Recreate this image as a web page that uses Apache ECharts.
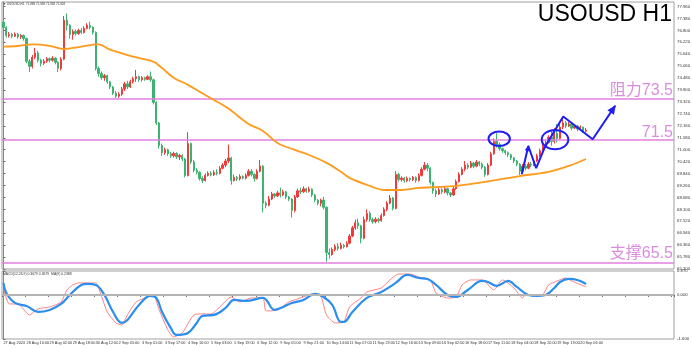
<!DOCTYPE html>
<html><head><meta charset="utf-8">
<script src="https://cdn.jsdelivr.net/npm/echarts@6/dist/echarts.min.js"></script>
<style>html,body{margin:0;padding:0;background:#fff}#c{width:692px;height:348px}</style>
</head><body><div id="c"></div>
<script>
// ---------- data ----------
const xLabels = ["27 Aug 2024","28 Aug 10:00","29 Aug 02:00","29 Aug 18:00","30 Aug 12:00","2 Sep 05:00","3 Sep 01:00","3 Sep 17:00","4 Sep 10:00","5 Sep 03:00","5 Sep 19:00","6 Sep 12:00","9 Sep 05:00","9 Sep 21:00","10 Sep 14:00","11 Sep 07:00","11 Sep 23:00","12 Sep 16:00","13 Sep 09:00","16 Sep 02:00","16 Sep 18:00","17 Sep 11:00","18 Sep 04:00","18 Sep 20:00","19 Sep 13:00","20 Sep 06:00"];
const priceTicks = [77.96,77.38,76.80,76.22,75.64,75.06,74.48,73.90,73.32,72.74,72.16,71.58,71.00,70.42,69.84,69.26,68.68,68.10,67.52,66.94,66.36,65.78,65.20];
const macdTicks = [0.87, 0, -1.6];
// [open, close, low, high]
const candles = [
[77.20,76.95,76.85,77.45],[76.95,76.55,76.45,77.00],[76.55,76.60,76.45,76.72],[76.60,76.52,76.42,76.68],[76.52,76.62,76.48,76.70],
[76.62,76.48,76.40,76.66],[76.48,76.55,76.38,76.62],[76.55,76.40,76.30,76.60],[76.40,75.30,75.20,76.45],[75.30,75.05,74.78,75.40],
[75.05,75.50,74.95,75.60],[75.50,75.70,75.40,75.95],[75.70,75.35,75.25,75.80],[75.35,75.20,75.05,75.42],[75.20,75.30,75.12,75.40],
[75.30,75.42,75.22,75.50],[75.42,75.35,75.25,75.48],[75.35,75.45,75.28,75.55],[75.45,75.25,75.15,75.50],[75.25,74.95,74.78,75.30],
[74.95,75.40,74.85,75.50],[75.40,77.30,75.35,77.50],[77.30,77.05,76.80,77.62],[77.05,76.60,76.40,77.10],[76.60,76.75,76.35,76.85],
[76.75,76.65,76.55,76.85],[76.65,76.80,76.58,76.88],[76.80,76.70,76.62,76.92],[76.70,76.90,76.65,77.00],[76.90,77.05,76.85,77.15],
[77.05,76.95,76.85,77.22],[76.95,76.70,76.60,77.00],[76.70,74.95,74.85,76.75],[74.95,74.70,74.55,75.05],[74.70,74.50,74.40,74.80],
[74.50,74.60,74.35,74.68],[74.60,74.30,74.20,74.65],[74.30,74.05,73.95,74.35],[74.05,73.75,73.65,74.10],[73.75,73.60,73.50,73.85],
[73.60,73.70,73.52,73.80],[73.70,73.95,73.62,74.05],[73.95,74.20,73.85,74.30],[74.20,74.05,73.95,74.35],[74.05,74.30,74.00,74.40],
[74.30,74.45,74.22,74.55],[74.45,74.55,74.30,74.88],[74.55,74.40,74.30,74.60],[74.40,74.50,74.32,74.58],[74.50,74.42,74.35,74.55],
[74.42,74.55,74.38,74.62],[74.55,74.40,74.30,74.80],[74.40,73.30,73.20,74.45],[73.30,72.30,72.20,73.35],[72.30,71.20,71.05,72.35],
[71.20,70.85,70.70,71.30],[70.85,71.00,70.75,71.10],[71.00,70.80,70.70,71.05],[70.80,70.70,70.60,70.90],[70.70,70.82,70.62,70.90],
[70.82,70.65,70.55,70.88],[70.65,70.72,70.50,70.80],[70.72,70.55,70.45,70.78],[70.55,69.75,69.65,70.60],[69.75,71.30,69.70,71.85],
[71.30,70.40,70.30,71.35],[70.40,70.00,69.90,70.50],[70.00,69.90,69.80,70.10],[69.90,69.60,69.50,69.95],[69.60,69.50,69.38,69.70],
[69.50,69.75,69.45,69.85],[69.75,69.85,69.70,69.95],[69.85,69.78,69.70,69.95],[69.78,69.90,69.72,70.00],[69.90,69.85,69.75,70.05],
[69.85,70.10,69.80,70.20],[70.10,70.25,70.05,70.35],[70.25,70.45,70.15,70.55],[70.45,70.60,70.35,71.25],[70.60,69.50,69.30,70.65],
[69.50,69.65,69.45,69.78],[69.65,69.58,69.48,69.72],[69.58,69.70,69.50,69.80],[69.70,69.62,69.55,69.75],[69.62,69.75,69.55,69.85],
[69.75,69.95,69.70,70.05],[69.95,69.80,69.70,70.05],[69.80,69.60,69.45,69.85],[69.60,69.95,69.55,70.05],[69.95,70.20,69.90,70.50],
[70.20,68.40,67.95,70.25],[68.40,68.30,68.15,68.50],[68.30,68.60,68.25,68.75],[68.60,68.85,68.55,68.95],[68.85,68.75,68.65,68.90],
[68.75,68.90,68.70,69.00],[68.90,68.80,68.68,69.15],[68.80,68.95,68.75,69.05],[68.95,68.70,68.60,69.00],[68.70,68.60,68.50,68.75],
[68.60,68.05,67.70,68.65],[68.05,68.70,67.95,68.80],[68.70,69.00,68.65,69.10],[69.00,68.95,68.85,69.15],[68.95,69.10,68.90,69.22],
[69.10,68.98,68.90,69.15],[68.98,69.08,68.92,69.20],[69.08,68.80,68.70,69.12],[68.80,68.55,68.45,68.85],[68.55,68.40,68.30,68.60],
[68.40,68.55,68.25,68.62],[68.55,68.20,68.10,68.70],[68.20,66.00,65.55,68.25],[66.00,65.90,65.70,66.20],[65.90,66.15,65.85,66.25],
[66.15,66.30,66.05,66.40],[66.30,66.20,66.10,66.45],[66.20,66.35,66.15,66.48],[66.35,66.28,66.20,66.42],[66.28,66.45,66.25,66.55],
[66.45,66.80,66.40,66.90],[66.80,67.20,66.75,67.30],[67.20,67.45,67.10,67.60],[67.45,67.30,67.15,67.65],[67.30,66.70,66.45,67.35],
[66.70,67.60,66.65,67.75],[67.60,67.90,67.50,68.10],[67.90,67.60,67.50,68.00],[67.60,67.50,67.40,67.70],[67.50,67.62,67.42,67.72],
[67.62,67.55,67.45,67.70],[67.55,67.80,67.50,67.90],[67.80,68.10,67.75,68.20],[68.10,68.40,68.00,68.50],[68.40,68.65,68.35,68.80],
[68.65,68.15,68.05,68.70],[68.15,69.80,68.10,69.95],[69.80,69.55,69.45,69.88],[69.55,69.62,69.45,69.70],[69.62,69.50,69.40,69.68],
[69.50,69.60,69.42,69.70],[69.60,69.55,69.45,69.65],[69.55,69.65,69.48,69.72],[69.65,69.50,69.40,69.70],[69.50,69.75,69.45,69.85],
[69.75,70.05,69.70,70.15],[70.05,70.25,70.00,70.40],[70.25,70.10,69.95,70.35],[70.10,69.40,69.30,70.15],[69.40,69.00,68.85,69.45],
[69.00,68.85,68.70,69.10],[68.85,69.05,68.80,69.15],[69.05,68.95,68.85,69.15],[68.95,69.10,68.88,69.20],[69.10,68.90,68.78,69.15],
[68.90,68.80,68.70,68.95],[68.80,69.10,68.75,69.20],[69.10,69.45,69.05,69.55],[69.45,69.80,69.40,69.90],[69.80,70.05,69.75,70.15],
[70.05,70.25,69.95,70.45],[70.25,70.15,70.05,70.35],[70.15,70.35,70.10,70.45],[70.35,70.20,70.10,70.40],[70.20,70.40,70.15,70.50],
[70.40,70.30,70.20,70.45],[70.30,70.15,70.05,70.38],[70.15,69.80,69.68,70.20],[69.80,70.25,69.75,70.35],[70.25,70.80,70.20,70.90],
[70.80,71.40,70.75,71.55],[71.40,71.25,71.10,71.80],[71.25,71.05,70.95,71.35],[71.05,70.95,70.85,71.10],[70.95,70.85,70.75,71.00],
[70.85,70.75,70.65,70.92],[70.75,70.60,70.50,70.80],[70.60,70.45,70.35,70.65],[70.45,70.30,70.20,70.50],[70.30,69.95,69.77,70.35],
[69.95,70.20,69.90,70.30],[70.20,70.10,70.00,70.30],[70.10,70.30,70.05,70.40],[70.30,70.25,70.15,70.40],[70.25,70.45,70.20,70.55],
[70.45,70.70,70.40,70.80],[70.70,70.95,70.65,71.05],[70.95,71.20,70.90,71.30],[71.20,71.35,71.10,71.45],[71.35,71.60,71.30,71.70],
[71.60,71.40,71.20,71.95],[71.40,71.80,71.30,72.05],[71.80,71.55,71.35,72.25],[71.55,72.10,71.50,72.30],[72.10,72.30,72.00,72.55],
[72.30,72.15,72.05,72.40],[72.15,72.25,72.10,72.35],[72.25,72.05,71.95,72.30],[72.05,72.15,72.00,72.22],[72.15,72.00,71.90,72.20],
[72.00,72.10,71.92,72.18],[72.10,71.90,71.82,72.12],[71.90,71.95,71.85,72.05]
];
// moving average [barIndex, price]
const maPoints = [[0,76.01],[5,76.04],[10,76.12],[16,76.05],[21,75.89],[27,76.01],[33,76.12],[37,75.86],[45,75.52],[52,75.28],[55,74.97],[59,74.50],[64,74.15],[68,73.82],[73,73.42],[78,73.00],[85,72.25],[90,71.91],[95,71.33],[101,70.99],[106,70.74],[112,70.36],[117,69.93],[120,69.63],[127,69.24],[132,69.04],[138,69.04],[144,69.14],[151,69.19],[157,69.24],[169,69.48],[179,69.72],[189,69.92],[196,70.21],[202,70.55]];
const macdMain = [[0,0.436],[1,0.073],[4,-0.29],[8,-0.399],[12,-0.617],[16,-0.545],[20,-0.327],[23,0],[27,0.363],[29,0.399],[32,0.363],[35,0],[38,-0.617],[41,-1.016],[43,-0.908],[47,-0.363],[51,-0.036],[53,-0.109],[55,-0.617],[58,-1.198],[60,-1.452],[64,-1.379],[67,-1.016],[69,-0.762],[73,-0.726],[77,-0.472],[80,-0.182],[84,-0.218],[90,-0.109],[94,-0.545],[97,-0.436],[100,-0.29],[104,-0.182],[108,0.036],[111,-0.073],[114,-0.363],[117,-0.98],[118,-0.98],[121,-0.617],[126,-0.109],[131,0.109],[136,0.436],[140,0.726],[144,0.617],[147,0.581],[150,0.363],[154,0],[157,-0.073],[161,0.182],[166,0.508],[168,0.472],[171,0.327],[175,0.508],[178,0.29],[182,0],[185,-0.036],[188,0],[191,0.254],[193,0.472],[196,0.581],[199,0.545],[202,0.399]];
const macdSignal = [[0,0.254],[2,-0.327],[5,-0.327],[9,-0.726],[12,-0.508],[16,-0.436],[20,-0.254],[22,0.182],[24,0.363],[26,0.436],[32,0.436],[33,0.254],[36,-0.617],[39,-1.016],[41,-1.089],[43,-0.726],[46,-0.254],[50,-0.073],[52,0],[54,-0.545],[57,-1.27],[59,-1.525],[62,-1.379],[66,-0.726],[69,-0.69],[72,-0.69],[75,-0.436],[79,-0.073],[82,-0.254],[86,-0.109],[90,-0.109],[91,-0.581],[95,-0.545],[99,-0.254],[103,-0.109],[107,0.036],[110,-0.036],[112,-0.726],[115,-1.016],[118,-0.98],[120,-0.436],[124,-0.109],[126,0.109],[131,0.254],[134,0.545],[137,0.762],[141,0.762],[144,0.654],[148,0.545],[150,0.073],[154,-0.109],[157,-0.073],[159,0.363],[162,0.545],[166,0.545],[170,0.182],[173,0.545],[177,0.254],[180,-0.109],[181,0.036],[185,-0.036],[187,0],[189,0.363],[192,0.508],[195,0.617],[197,0.508],[202,0.29]];
const levels = [73.5, 71.5, 65.5];
const levelTexts = ['阻力73.5', '71.5', '支撑65.5'];
const lastPrice = 71.95;
// annotations in data space: [barIndex, price, radiusBars, radiusPrice]
const circles = [[171.9,71.53,3.71,0.35],[191.25,71.49,4.61,0.47]];
const zigzag = [[179.7,69.81],[182.0,71.18],[184.7,70.10],[187.8,71.15],[194.1,72.61],[204.3,71.51],[212.1,73.13]];
// [fromBar, fromPrice, toBar, toPrice]
const arrows = [[179.7,69.81,182.0,71.18],[204.3,71.51,212.1,73.13]];
const headerText = '▼ USOUSD,H1  71.888 71.938 71.838 71.928';
const macdText = 'MACD(12,26,9) 0.3679 0.3679  MA(9) 0.2388';

// ---------- layout ----------
const slots = 233;
const cats = [];
for (let i = 0; i < slots; i++) cats.push(String(i));
const FONT = "'Liberation Sans', 'Noto Sans CJK SC', sans-serif";
const PINK = '#e07fe0', PINK_TXT = '#dc8ce0', BLUE = '#1e1ef5';
const arrowSizes = [5, 8];

const chart = echarts.init(document.getElementById('c'), null, {renderer: 'canvas'});
chart.setOption({
  animation: false,
  backgroundColor: '#ffffff',
  title: [
    {text: 'USOUSD H1', right: 20, top: 3, padding: 0,
     textStyle: {fontSize: 23, fontWeight: 'normal', color: '#000', fontFamily: FONT}},
    {text: headerText, left: 3, top: 3, padding: 0,
     textStyle: {fontSize: 3, fontWeight: 'normal', color: '#333', fontFamily: FONT}},
    {text: macdText, left: 3, top: 272, padding: 0,
     textStyle: {fontSize: 3.4, fontWeight: 'normal', color: '#333', fontFamily: FONT}}
  ],
  grid: [
    {left: 2, right: 18, top: 2, height: 267, show: true, borderColor: '#a0a0a0', borderWidth: 1, containLabel: false, outerBoundsMode: 'none'},
    {left: 2, right: 18, top: 271, height: 68, show: true, borderColor: '#a0a0a0', borderWidth: 1, containLabel: false, outerBoundsMode: 'none'}
  ],
  xAxis: [
    {type: 'category', gridIndex: 0, data: cats, boundaryGap: true, show: false},
    {type: 'value', gridIndex: 0, min: -0.5, max: slots - 0.5, show: false},
    {type: 'category', gridIndex: 1, data: cats, boundaryGap: true,
     axisLine: {show: false},
     axisTick: {show: true, interval: 7, length: 2, lineStyle: {color: '#666'}},
     axisLabel: {show: true, interval: 7, fontSize: 3.8, color: '#333', fontFamily: FONT, margin: 2, align: 'left',
       hideOverlap: false, showMinLabel: true, showMaxLabel: false,
       formatter: v => { const i = parseInt(v, 10); return (i % 8 === 0 && xLabels[i / 8]) ? xLabels[i / 8] : ''; }},
     splitLine: {show: false}},
    {type: 'value', gridIndex: 1, min: -0.5, max: slots - 0.5, show: false}
  ],
  yAxis: [
    {type: 'value', gridIndex: 0, position: 'right', min: 65.20, max: 78.18,
     axisLine: {show: true, lineStyle: {color: '#888'}},
     axisTick: {show: true, length: 2, customValues: priceTicks, lineStyle: {color: '#666'}},
     axisLabel: {show: true, customValues: priceTicks, fontSize: 4.3, color: '#333', fontFamily: FONT, margin: 3,
       hideOverlap: false, formatter: v => v.toFixed(3)},
     splitLine: {show: false}},
    {type: 'value', gridIndex: 1, position: 'right', min: -1.6, max: 0.87,
     axisLine: {show: true, lineStyle: {color: '#888'}},
     axisTick: {show: true, length: 2, customValues: macdTicks, lineStyle: {color: '#666'}},
     axisLabel: {show: true, customValues: macdTicks, fontSize: 4.3, color: '#333', fontFamily: FONT, margin: 3,
       hideOverlap: false, formatter: v => v.toFixed(3)},
     splitLine: {show: false}}
  ],
  series: [
    {type: 'candlestick', xAxisIndex: 0, yAxisIndex: 0, data: candles, barWidth: 1.8, z: 2,
     itemStyle: {color: '#f23a3a', color0: '#3cb371', borderColor: '#f23a3a', borderColor0: '#3cb371', borderWidth: 1},
     markLine: {silent: true, symbol: 'none', animation: false, z: 3,
       lineStyle: {color: PINK, width: 1.6, type: 'solid'},
       label: {show: true, position: 'insideEndTop', color: PINK_TXT, fontSize: 16, fontFamily: FONT},
       data: levels.map((v, k) => ({yAxis: v, label: {formatter: levelTexts[k], distance: [1, [0, -1.5, 1][k]]}}))}
    },
    {type: 'line', xAxisIndex: 1, yAxisIndex: 0, data: maPoints, smooth: 0.35, showSymbol: false, z: 4,
     lineStyle: {color: '#ff9a1c', width: 1.8},
     markLine: {silent: true, symbol: 'none', animation: false, z: 6,
       lineStyle: {opacity: 0},
       label: {show: true, position: 'end', distance: 1, fontSize: 4.3, fontFamily: FONT, color: '#fff',
         padding: [1, 1, 0, 1], formatter: p => Number(p.value).toFixed(3)},
       data: levels.map(v => ({yAxis: v, label: {backgroundColor: PINK}}))
             .concat([{yAxis: lastPrice, label: {backgroundColor: '#000'}}])}
    },
    {type: 'line', xAxisIndex: 1, yAxisIndex: 0, data: zigzag, showSymbol: false, z: 6,
     lineStyle: {color: BLUE, width: 2}},
    {type: 'custom', xAxisIndex: 1, yAxisIndex: 0, data: circles, z: 6, clip: false,
     renderItem: (params, api) => {
       const c = api.coord([api.value(0), api.value(1)]);
       const e = api.coord([api.value(0) + api.value(2), api.value(1) + api.value(3)]);
       return {type: 'ellipse', shape: {cx: c[0], cy: c[1], rx: Math.abs(e[0] - c[0]), ry: Math.abs(e[1] - c[1])},
               style: {fill: 'none', stroke: BLUE, lineWidth: 2}};
     }},
    {type: 'custom', xAxisIndex: 1, yAxisIndex: 0, data: arrows, z: 7, clip: false,
     renderItem: (params, api) => {
       const a = api.coord([api.value(0), api.value(1)]);
       const b = api.coord([api.value(2), api.value(3)]);
       const dx = b[0] - a[0], dy = b[1] - a[1], d = Math.hypot(dx, dy) || 1;
       const ux = dx / d, uy = dy / d;
       const L = arrowSizes[params.dataIndex], W = L * 0.5;
       const bx = b[0] - ux * L, by = b[1] - uy * L;
       return {type: 'polygon', shape: {points: [[b[0] + ux, b[1] + uy], [bx - uy * W, by + ux * W], [bx + uy * W, by - ux * W]]},
               style: {fill: BLUE}};
     }},
    {type: 'line', xAxisIndex: 3, yAxisIndex: 1, data: macdSignal, smooth: 0.2, showSymbol: false, z: 3,
     lineStyle: {color: '#ff8080', width: 1},
     markLine: {silent: true, symbol: 'none', animation: false, label: {show: false},
       lineStyle: {color: '#b4b4b4', width: 2, type: 'solid'}, data: [{yAxis: 0}]}},
    {type: 'line', xAxisIndex: 3, yAxisIndex: 1, data: macdMain, smooth: 0.4, showSymbol: false, z: 4,
     lineStyle: {color: '#2b8ef0', width: 2.2}}
  ]
});
</script>
</body></html>
